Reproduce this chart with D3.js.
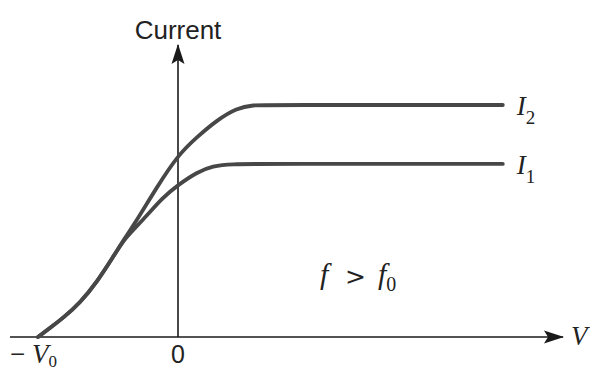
<!DOCTYPE html>
<html>
<head>
<meta charset="utf-8">
<script src="https://cdn.jsdelivr.net/npm/d3@7"></script>
<style>
  html, body { margin: 0; padding: 0; background: #fff; }
  svg { display: block; }
</style>
</head>
<body>
<svg id="chart" width="590" height="370"></svg>
<script>
// Photocurrent vs. voltage for two light intensities (f > f0).
// Voltage in units of the stopping potential V0, current relative to I2 saturation.
const voltageI2 = [-1.0, -0.914, -0.821, -0.7, -0.579, -0.464, -0.379, -0.293, -0.15, 0.0, 0.136, 0.279, 0.421, 0.536, 0.657, 2.32];
const currentI2 = [0.0, 0.039, 0.082, 0.147, 0.237, 0.345, 0.427, 0.504, 0.647, 0.784, 0.862, 0.935, 0.987, 1.0, 1.0, 1.0];
const voltageI1 = [-1.0, -0.914, -0.821, -0.7, -0.579, -0.464, -0.379, -0.25, -0.107, 0.0, 0.136, 0.25, 0.371, 0.657, 2.32];
const currentI1 = [0.0, 0.039, 0.082, 0.147, 0.237, 0.345, 0.427, 0.504, 0.603, 0.655, 0.711, 0.737, 0.746, 0.746, 0.746];
const seriesNames = ["I2", "I1"];
const xTickLabels = ["−V0", "0"];

const svg = d3.select("#chart");

const x = d3.scaleLinear().domain([-1, 0]).range([38, 178]);
const y = d3.scaleLinear().domain([0, 1]).range([337, 105]);

const axisColor = "#1a1a1a";
const curveColor = "#474747";
const textColor = "#222";
const serif = "'Liberation Serif', 'DejaVu Serif', serif";
const sans = "'Liberation Sans', Arial, sans-serif";

// arrowhead marker
svg.append("defs").append("marker")
  .attr("id", "arrow")
  .attr("viewBox", "0 0 20 14")
  .attr("refX", 19).attr("refY", 7)
  .attr("markerWidth", 20).attr("markerHeight", 14)
  .attr("markerUnits", "userSpaceOnUse")
  .attr("orient", "auto")
  .append("path")
  .attr("d", "M0,0.5 L20,7 L0,13.5 L4,7 Z")
  .attr("fill", axisColor);

// axes
svg.append("line")
  .attr("x1", x(-1.2)).attr("y1", y(0))
  .attr("x2", x(2.75)).attr("y2", y(0))
  .attr("stroke", axisColor).attr("stroke-width", 1.6)
  .attr("marker-end", "url(#arrow)");
svg.append("line")
  .attr("x1", x(0)).attr("y1", y(0))
  .attr("x2", x(0)).attr("y2", y(1.259))
  .attr("stroke", axisColor).attr("stroke-width", 1.6)
  .attr("marker-end", "url(#arrow)");

// curves
const line = d3.line()
  .x(d => x(d[0]))
  .y(d => y(d[1]))
  .curve(d3.curveBasis);

const curves = [
  d3.zip(voltageI2, currentI2),
  d3.zip(voltageI1, currentI1)
];
svg.selectAll("path.curve")
  .data(curves)
  .join("path")
  .attr("class", "curve")
  .attr("d", line)
  .attr("fill", "none")
  .attr("stroke", curveColor)
  .attr("stroke-width", 3.8)
  .attr("stroke-linecap", "round");

// series labels with subscripts
curves.forEach((c, i) => {
  const last = c[c.length - 1];
  const name = seriesNames[i];
  const t = svg.append("text")
    .attr("x", x(last[0]) + 14).attr("y", y(last[1]) + 10)
    .attr("font-family", serif)
    .attr("font-size", 27)
    .attr("fill", textColor);
  t.append("tspan").attr("font-style", "italic").text(name[0]);
  t.append("tspan").attr("font-size", 19).attr("dy", 9).text(name.slice(1));
});

// axis titles
svg.append("text")
  .attr("x", x(0)).attr("y", 39)
  .attr("text-anchor", "middle")
  .attr("font-family", sans)
  .attr("font-size", 26)
  .attr("fill", textColor)
  .text("Current");

svg.append("text")
  .attr("x", 571).attr("y", 345)
  .attr("font-family", serif)
  .attr("font-style", "italic")
  .attr("font-size", 27)
  .attr("fill", textColor)
  .text("V");

// tick labels under the voltage axis
const negT = svg.append("text")
  .attr("x", 10).attr("y", 363)
  .attr("font-family", serif)
  .attr("font-size", 27)
  .attr("fill", textColor);
negT.append("tspan").text(xTickLabels[0][0] + " ");
negT.append("tspan").attr("font-style", "italic").text(xTickLabels[0][1]);
negT.append("tspan").attr("font-size", 17).attr("dy", 4).text(xTickLabels[0].slice(2));

svg.append("text")
  .attr("x", x(0)).attr("y", 363)
  .attr("text-anchor", "middle")
  .attr("font-family", sans)
  .attr("font-size", 25)
  .attr("fill", textColor)
  .text(xTickLabels[1]);

// condition annotation
const ann = svg.append("g").attr("fill", textColor);
ann.append("text").attr("x", 320).attr("y", 284)
  .attr("font-family", serif)
  .attr("font-size", 30).attr("font-style", "italic").text("f");
ann.append("text").attr("x", 345).attr("y", 285)
  .attr("font-family", "'DejaVu Sans', sans-serif")
  .attr("font-size", 25).text(">");
const f0 = ann.append("text").attr("x", 378).attr("y", 284)
  .attr("font-family", serif).attr("font-size", 30);
f0.append("tspan").attr("font-style", "italic").text("f");
f0.append("tspan").attr("font-size", 20).attr("dy", 7).text("0");
</script>
</body>
</html>
